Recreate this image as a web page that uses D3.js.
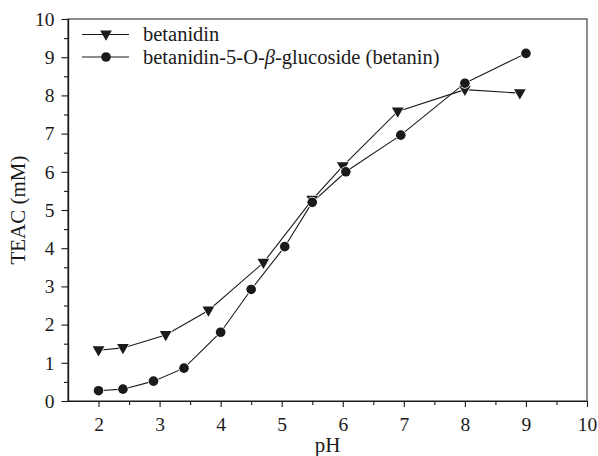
<!DOCTYPE html>
<html>
<head>
<meta charset="utf-8">
<script src="https://cdn.jsdelivr.net/npm/d3@7/dist/d3.min.js"></script>
<style>
  html, body { margin: 0; padding: 0; background: #fff; }
  svg { display: block; }
  svg text { font-family: "Liberation Serif", "DejaVu Serif", serif; }
</style>
</head>
<body>
<svg id="chart" width="598" height="456"></svg>
<script>
// TEAC of betanidin and betanin as a function of pH
const betanidinPH   = [2.0, 2.4, 3.1, 3.8, 4.7, 5.5, 6.0, 6.9, 8.0, 8.9];
const betanidinTEAC = [1.33, 1.39, 1.73, 2.37, 3.62, 5.27, 6.15, 7.58, 8.15, 8.06];

const betaninPH   = [2.0, 2.4, 2.9, 3.4, 4.0, 4.5, 5.05, 5.5, 6.05, 6.95, 8.0, 9.0];
const betaninTEAC = [0.27, 0.31, 0.52, 0.86, 1.80, 2.92, 4.04, 5.20, 6.00, 6.96, 8.32, 9.10];

const xTicks = [2, 3, 4, 5, 6, 7, 8, 9, 10];
const yTicks = [0, 1, 2, 3, 4, 5, 6, 7, 8, 9, 10];
const xMinor = [2.5, 3.5, 4.5, 5.5, 6.5, 7.5, 8.5, 9.5];
const yMinor = [0.5, 1.5, 2.5, 3.5, 4.5, 5.5, 6.5, 7.5, 8.5, 9.5];

const seriesNames = ["betanidin", "betanidin-5-O-", "β", "-glucoside (betanin)"];

const svg = d3.select("#chart");
const margin = { left: 68, right: 11, top: 19, bottom: 55 };
const W = 598, H = 456;

const x = d3.scaleLinear().domain([1.5, 10]).range([margin.left, W - margin.right]);
const y = d3.scaleLinear().domain([0, 10]).range([H - margin.bottom, margin.top]);

const ink = "#1a1a1a";

// frame
svg.append("rect")
  .attr("x", x(1.5)).attr("y", y(10))
  .attr("width", x(10) - x(1.5)).attr("height", y(0) - y(10))
  .attr("fill", "none").attr("stroke", "#444").attr("stroke-width", 1.2);

const xAxis = d3.axisBottom(x).tickValues(xTicks).tickSize(6).tickPadding(5)
  .tickSizeOuter(0).tickFormat(d3.format("d"));
const yAxis = d3.axisLeft(y).tickValues(yTicks).tickSize(6.5).tickPadding(7)
  .tickSizeOuter(0).tickFormat(d3.format("d"));

const gx = svg.append("g").attr("transform", `translate(0,${y(0)})`).call(xAxis);
const gy = svg.append("g").attr("transform", `translate(${x(1.5)},0)`).call(yAxis);

svg.append("g").attr("transform", `translate(0,${y(0)})`)
  .call(d3.axisBottom(x).tickValues(xMinor).tickSize(4).tickSizeOuter(0).tickFormat(""));
svg.append("g").attr("transform", `translate(${x(1.5)},0)`)
  .call(d3.axisLeft(y).tickValues(yMinor).tickSize(4).tickSizeOuter(0).tickFormat(""));

svg.selectAll(".domain").attr("stroke", ink).attr("stroke-width", 1.2);
svg.selectAll(".tick line").attr("stroke", ink).attr("stroke-width", 1.1);
gx.selectAll("text").attr("font-size", 19.5).attr("fill", ink).attr("dy", "0.95em");
gy.selectAll("text").attr("font-size", 19.5).attr("fill", ink);
svg.selectAll("g").attr("font-family", null);

// axis titles
svg.append("text")
  .attr("x", x(5.75)).attr("y", 452)
  .attr("text-anchor", "middle").attr("font-size", 21).attr("fill", ink)
  .text("pH");
svg.append("text")
  .attr("transform", `translate(25,${(y(0) + y(10)) / 2}) rotate(-90)`)
  .attr("text-anchor", "middle").attr("font-size", 21).attr("fill", ink)
  .text("TEAC (mM)");

const line = d3.line().x(d => x(d[0])).y(d => y(d[1]));
const triPath = d3.symbol().type(d3.symbolTriangle).size(60)();

function drawSeries(px, py) {
  const pts = px.map((v, i) => [v, py[i]]);
  svg.append("path").datum(pts)
    .attr("d", line).attr("fill", "none")
    .attr("stroke", ink).attr("stroke-width", 1.1);
  return pts;
}

const ptsA = drawSeries(betanidinPH, betanidinTEAC);
const ptsB = drawSeries(betaninPH, betaninTEAC);

function drawTriangles(pts) {
  svg.append("g").selectAll("path").data(pts).join("path")
    .attr("d", triPath)
    .attr("transform", d => `translate(${x(d[0])},${y(d[1]) - 0.5}) rotate(180)`)
    .attr("fill", ink).attr("stroke", "#fff").attr("stroke-width", 1.4)
    .attr("paint-order", "stroke");
}
function drawCircles(pts) {
  svg.append("g").selectAll("circle").data(pts).join("circle")
    .attr("cx", d => x(d[0])).attr("cy", d => y(d[1])).attr("r", 4.8)
    .attr("fill", ink).attr("stroke", "#fff").attr("stroke-width", 1.4)
    .attr("paint-order", "stroke");
}
drawTriangles(ptsA);
drawCircles(ptsB);

// legend
const lg = svg.append("g");
const lx0 = 82, lx1 = 129, lxm = 106;
const ly = [34.5, 57];
lg.append("line").attr("x1", lx0).attr("x2", lx1).attr("y1", ly[0]).attr("y2", ly[0])
  .attr("stroke", ink).attr("stroke-width", 1.1);
lg.append("path").attr("d", triPath)
  .attr("transform", `translate(${lxm},${ly[0] - 0.5}) rotate(180)`).attr("fill", ink);
lg.append("line").attr("x1", lx0).attr("x2", lx1).attr("y1", ly[1]).attr("y2", ly[1])
  .attr("stroke", ink).attr("stroke-width", 1.1);
lg.append("circle").attr("cx", lxm).attr("cy", ly[1]).attr("r", 4.8).attr("fill", ink);

lg.append("text").attr("x", 143).attr("y", ly[0] + 6.5).attr("font-size", 20.5).attr("fill", ink)
  .text(seriesNames[0]);
const t2 = lg.append("text").attr("x", 143).attr("y", ly[1] + 6.5).attr("font-size", 20.5).attr("fill", ink);
t2.append("tspan").text(seriesNames[1]);
t2.append("tspan").attr("font-style", "italic").text(seriesNames[2]);
t2.append("tspan").text(seriesNames[3]);
</script>
</body>
</html>
